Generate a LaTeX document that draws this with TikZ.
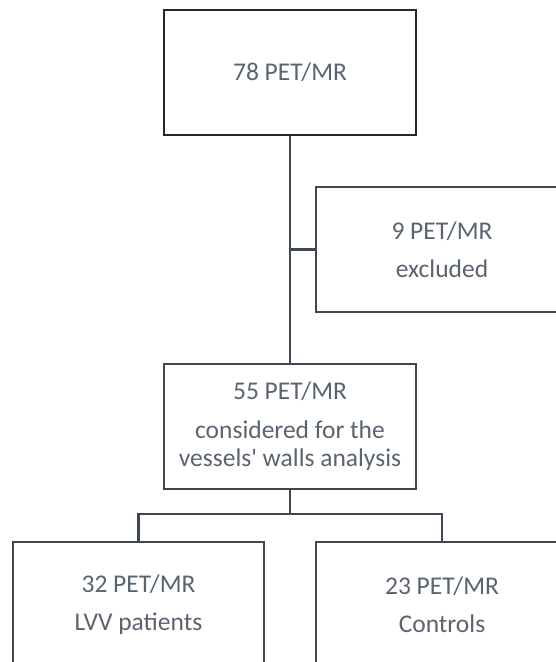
\documentclass[tikz,border=0pt]{standalone}
\usepackage{fontspec}
\setmainfont{Carlito}[Ligatures=TeXOff]
\definecolor{linegray}{HTML}{3F4752}
\definecolor{textgray}{HTML}{5A6470}
\begin{document}
\begin{tikzpicture}[x=1pt,y=1pt,
  box/.style={draw=linegray, line width=2.2pt, rectangle, minimum width=252pt, minimum height=125pt,
    inner sep=0pt, align=center, text=textgray, font=\fontsize{25.5}{28}\selectfont},
  conn/.style={draw=linegray, line width=2.2pt}]
\useasboundingbox (0,0) rectangle (556,662);
\clip (0,0) rectangle (556,662);
\fill[white] (0,0) rectangle (556,662);
\node[box, draw=black!85] (top) at (290,589.5) {78 PET/MR};
\node[box] (excl) at (442,412.5) {9 PET/MR\\[10pt]excluded};
\node[box] (mid) at (290,235.5) {55 PET/MR\\[11pt]considered for the\\vessels' walls analysis};
\node[box, minimum width=251pt] (lvv) at (138.5,57.5) {32 PET/MR\\[10pt]LVV patients};
\node[box] (ctrl) at (442,57.5) {23 PET/MR\\[10pt]Controls};
\coordinate (bar) at (290,148);
\draw[conn] (top.south) -- (mid.north);
\draw[conn] (top.south |- excl.west) -- (excl.west);
\draw[conn] (mid.south) -- (bar);
\draw[conn] (lvv.north) -- (lvv.north |- bar) -- (ctrl.north |- bar) -- (ctrl.north);
\end{tikzpicture}
\end{document}
